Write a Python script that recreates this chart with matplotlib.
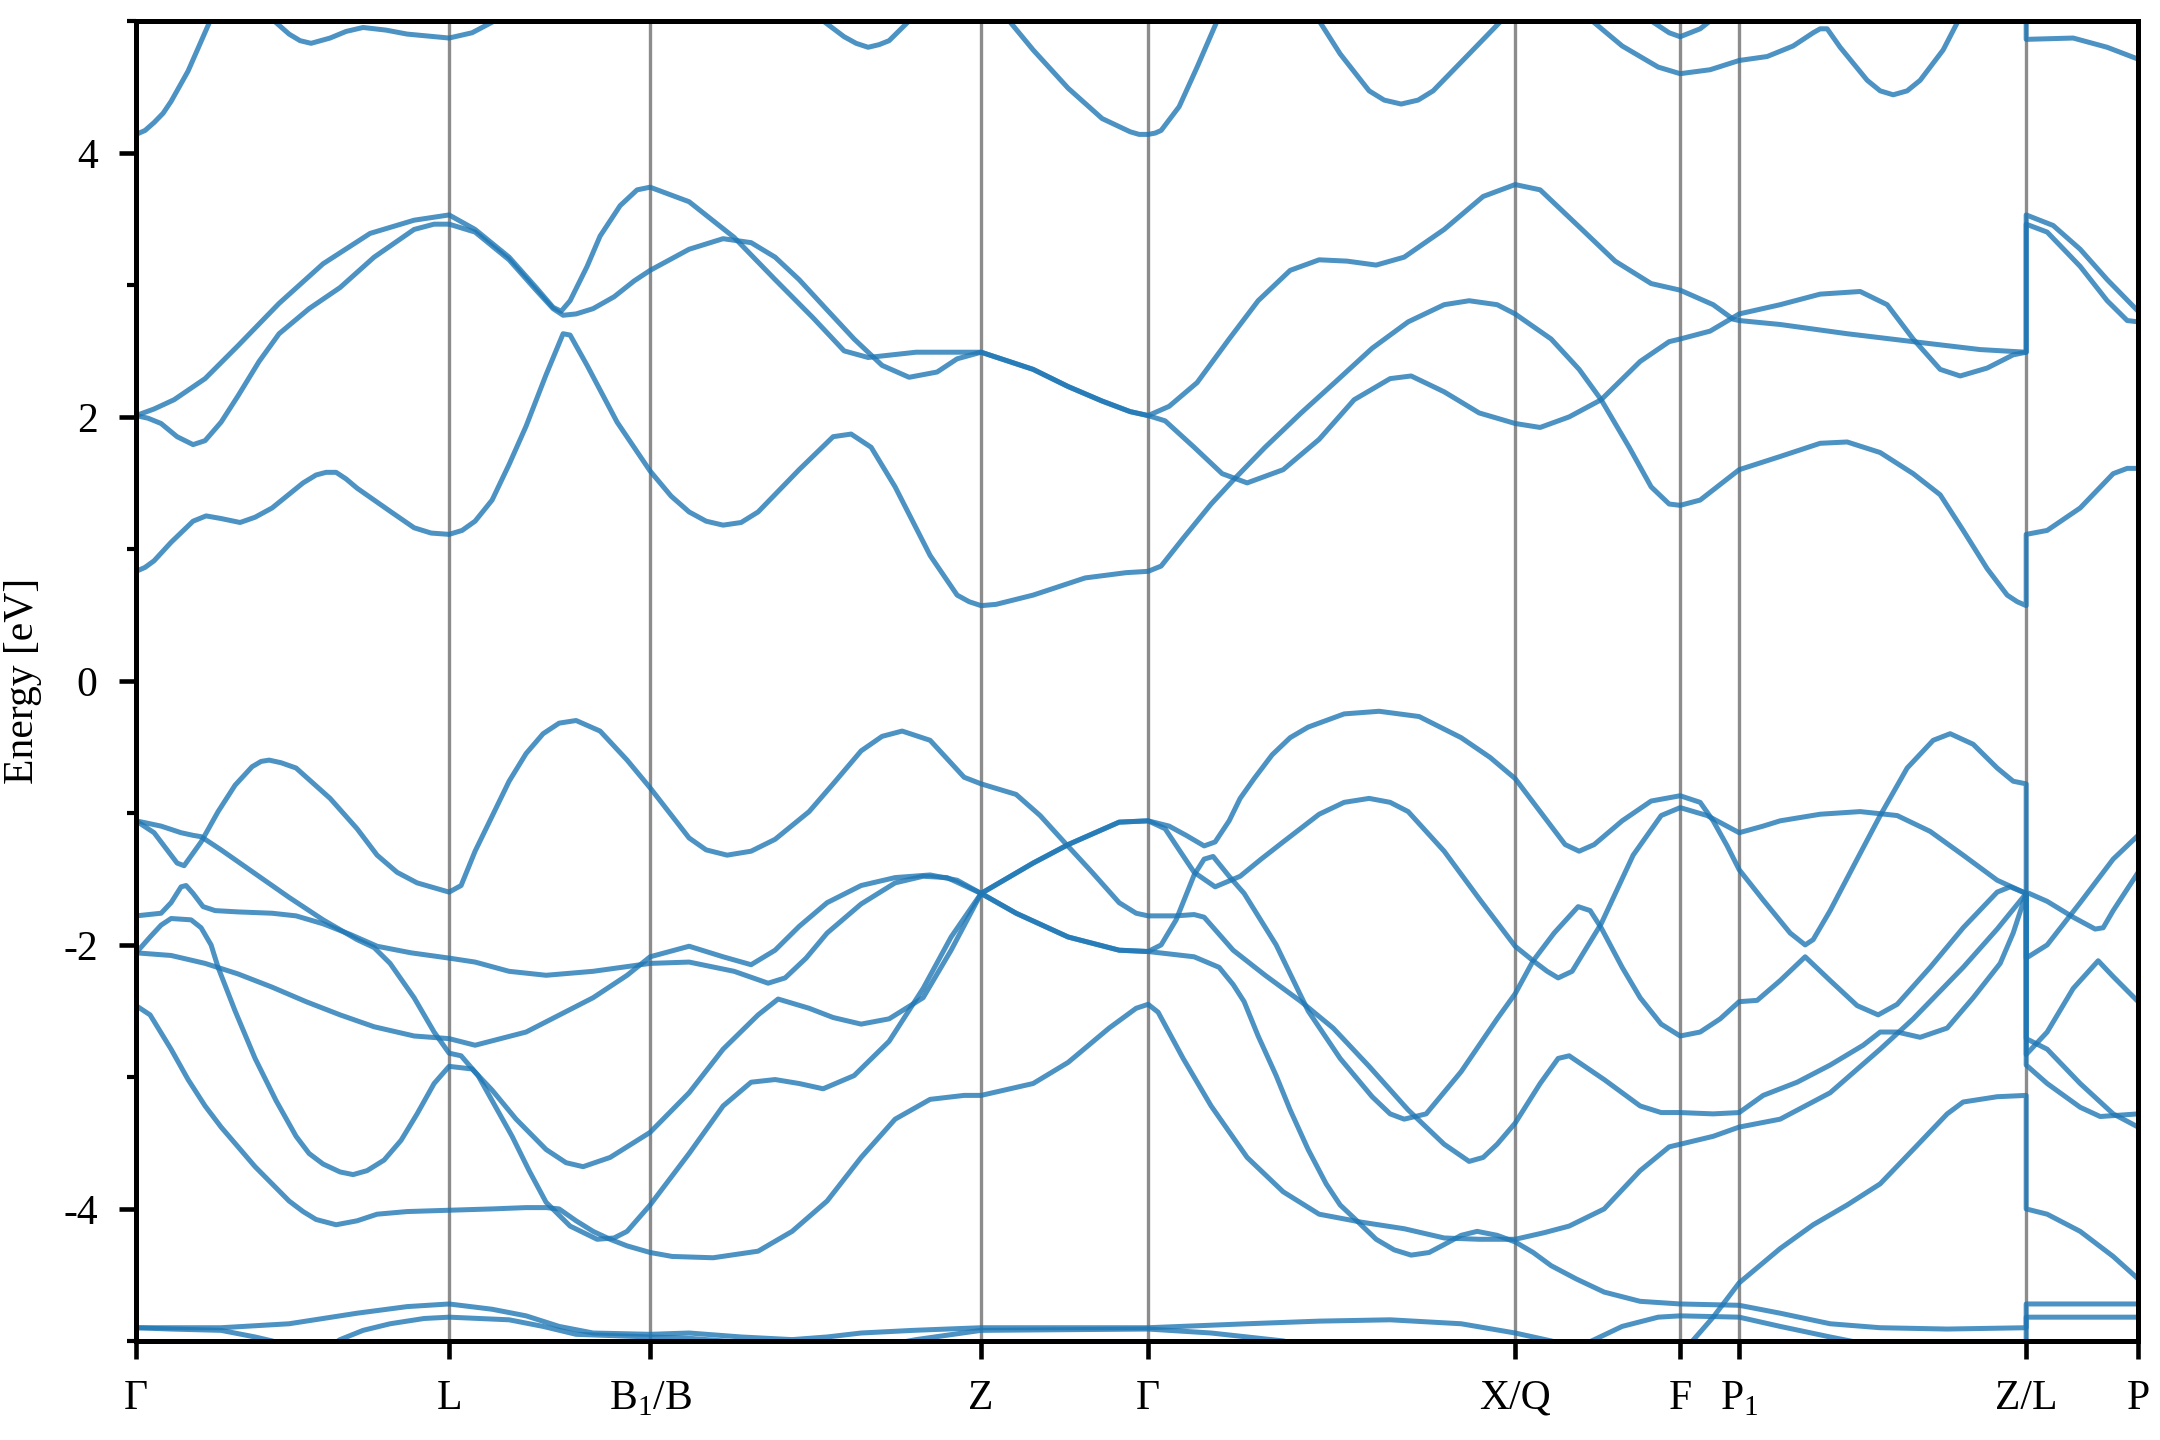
import matplotlib
matplotlib.use("Agg")
import matplotlib.pyplot as plt
from matplotlib.ticker import MultipleLocator

plt.rcParams["font.family"] = ["Liberation Serif", "DejaVu Serif"]
plt.rcParams["mathtext.fontset"] = "custom"
plt.rcParams["mathtext.rm"] = "Liberation Serif"
plt.rcParams["axes.unicode_minus"] = False

# high-symmetry points along the k-path
kpoints = [0.00, 3.13, 5.14, 8.45, 10.12, 13.79, 15.44, 16.03, 18.90, 20.02]
klabels = ["Γ", "L", "B$_1$/B", "Z", "Γ", "X/Q", "F", "P$_1$", "Z/L", "P"]

# conduction bands, (k, E)
c1 = [(0.00, 0.83), (0.09, 0.86), (0.18, 0.91), (0.35, 1.05), (0.57, 1.21), (0.70, 1.25), (0.85, 1.23),
      (1.04, 1.20), (1.19, 1.24), (1.36, 1.31), (1.67, 1.50), (1.80, 1.56), (1.90, 1.58), (2.00, 1.58),
      (2.10, 1.53), (2.21, 1.46), (2.55, 1.28), (2.78, 1.16), (2.95, 1.12), (3.13, 1.11), (3.26, 1.14),
      (3.39, 1.21), (3.56, 1.37), (3.73, 1.64), (3.90, 1.93), (4.10, 2.32), (4.27, 2.63), (4.34, 2.62),
      (4.51, 2.39), (4.81, 1.96), (5.14, 1.59), (5.35, 1.40), (5.53, 1.28), (5.70, 1.21), (5.87, 1.18),
      (6.05, 1.20), (6.22, 1.28), (6.63, 1.60), (6.97, 1.85), (7.15, 1.87), (7.35, 1.77), (7.59, 1.47),
      (7.94, 0.95), (8.21, 0.65), (8.33, 0.60), (8.45, 0.57), (8.60, 0.58), (8.97, 0.65), (9.49, 0.78),
      (9.90, 0.82), (10.12, 0.83), (10.25, 0.87), (10.47, 1.08), (10.75, 1.34), (10.97, 1.52),
      (11.29, 1.77), (11.65, 2.03), (12.00, 2.27), (12.36, 2.52), (12.72, 2.72), (13.08, 2.85),
      (13.33, 2.88), (13.61, 2.85), (13.79, 2.78), (14.15, 2.59), (14.43, 2.36), (14.65, 2.13),
      (14.93, 1.77), (15.15, 1.47), (15.33, 1.34), (15.44, 1.33), (15.64, 1.37), (16.03, 1.60),
      (16.44, 1.70), (16.84, 1.80), (17.11, 1.81), (17.44, 1.73), (17.77, 1.57), (18.04, 1.41),
      (18.27, 1.14), (18.51, 0.85), (18.71, 0.65), (18.81, 0.60), (18.90, 0.57), (18.90, 1.11),
      (19.11, 1.14), (19.44, 1.31), (19.77, 1.57), (19.91, 1.61), (20.02, 1.61)]

c2 = [(0.00, 2.01), (0.12, 1.99), (0.25, 1.95), (0.41, 1.85), (0.57, 1.79), (0.69, 1.82), (0.85, 1.96),
      (1.02, 2.16), (1.23, 2.42), (1.43, 2.63), (1.73, 2.82), (2.04, 2.98), (2.38, 3.21), (2.78, 3.42),
      (2.98, 3.46), (3.13, 3.46), (3.39, 3.40), (3.73, 3.19), (4.00, 2.96), (4.17, 2.82), (4.27, 2.77),
      (4.40, 2.78), (4.57, 2.82), (4.78, 2.91), (4.98, 3.03), (5.14, 3.11), (5.53, 3.27), (5.87, 3.35),
      (6.15, 3.32), (6.39, 3.21), (6.63, 3.04), (6.91, 2.81), (7.18, 2.59), (7.46, 2.39), (7.73, 2.30),
      (8.01, 2.34), (8.21, 2.44), (8.45, 2.49), (8.97, 2.36), (9.32, 2.23), (9.66, 2.12), (9.94, 2.04),
      (10.12, 2.01), (10.29, 1.97), (10.58, 1.77), (10.86, 1.57), (11.11, 1.50), (11.47, 1.60),
      (11.83, 1.83), (12.18, 2.13), (12.54, 2.29), (12.75, 2.31), (13.08, 2.19), (13.43, 2.03),
      (13.79, 1.95), (14.04, 1.92), (14.33, 2.00), (14.65, 2.13), (15.04, 2.42), (15.33, 2.57),
      (15.44, 2.59), (15.74, 2.65), (16.03, 2.78), (16.44, 2.85), (16.84, 2.93), (17.24, 2.95),
      (17.51, 2.85), (17.77, 2.59), (18.04, 2.36), (18.24, 2.31), (18.51, 2.37), (18.77, 2.47),
      (18.90, 2.49), (18.90, 3.46), (19.11, 3.40), (19.44, 3.14), (19.71, 2.88), (19.91, 2.73), (20.02, 2.72)]

c3 = [(0.00, 2.01), (0.18, 2.06), (0.38, 2.13), (0.69, 2.29), (1.02, 2.54), (1.43, 2.86), (1.87, 3.16),
      (2.34, 3.39), (2.78, 3.49), (3.13, 3.53), (3.39, 3.42), (3.73, 3.21), (4.00, 2.98), (4.17, 2.83),
      (4.25, 2.80), (4.34, 2.88), (4.51, 3.14), (4.64, 3.37), (4.84, 3.60), (5.01, 3.72), (5.14, 3.74),
      (5.53, 3.63), (5.98, 3.36), (6.39, 3.04), (6.77, 2.75), (7.08, 2.50), (7.32, 2.45), (7.80, 2.49),
      (8.45, 2.49), (8.97, 2.36), (9.32, 2.23), (9.66, 2.12), (9.94, 2.04), (10.12, 2.01), (10.33, 2.08),
      (10.61, 2.26), (10.93, 2.59), (11.22, 2.88), (11.54, 3.11), (11.83, 3.19), (12.11, 3.18),
      (12.40, 3.15), (12.68, 3.21), (13.08, 3.42), (13.47, 3.67), (13.79, 3.76), (14.04, 3.72),
      (14.43, 3.44), (14.79, 3.18), (15.15, 3.01), (15.44, 2.96), (15.77, 2.85), (15.97, 2.74),
      (16.03, 2.73), (16.44, 2.70), (17.11, 2.63), (17.77, 2.57), (18.44, 2.51), (18.90, 2.49),
      (18.90, 3.53), (19.17, 3.45), (19.44, 3.27), (19.71, 3.04), (20.02, 2.80)]

# upper conduction pieces that leave the window
t1 = [(0.00, 4.14), (0.09, 4.17), (0.18, 4.23), (0.27, 4.30), (0.35, 4.39), (0.52, 4.62), (0.74, 5.00),
      (0.85, 5.20)]
t2 = [(1.28, 5.15), (1.38, 5.00), (1.53, 4.90), (1.64, 4.85), (1.75, 4.83), (1.94, 4.87), (2.10, 4.92),
      (2.27, 4.95), (2.50, 4.93), (2.71, 4.90), (3.13, 4.87), (3.36, 4.91), (3.56, 4.99), (3.70, 5.10)]
t3 = [(6.75, 5.12), (6.87, 5.00), (7.08, 4.88), (7.20, 4.83), (7.32, 4.80), (7.43, 4.82), (7.53, 4.85),
      (7.73, 5.00), (7.85, 5.12)]
t4 = [(8.60, 5.15), (8.73, 5.00), (8.97, 4.78), (9.32, 4.49), (9.66, 4.26), (9.94, 4.16), (10.03, 4.14),
      (10.12, 4.14), (10.19, 4.15), (10.25, 4.17), (10.43, 4.35), (10.61, 4.65), (10.81, 5.00), (10.88, 5.15)]
t5 = [(11.75, 5.15), (11.83, 5.00), (12.04, 4.75), (12.33, 4.47), (12.48, 4.40), (12.65, 4.37),
      (12.82, 4.40), (12.97, 4.47), (13.33, 4.75), (13.65, 5.00), (13.72, 5.15)]
t6 = [(14.48, 5.15), (14.56, 5.00), (14.86, 4.81), (15.22, 4.65), (15.44, 4.60), (15.74, 4.63),
      (16.03, 4.70), (16.31, 4.73), (16.57, 4.81), (16.77, 4.91), (16.84, 4.94), (16.91, 4.94),
      (17.04, 4.80), (17.31, 4.55), (17.44, 4.47), (17.57, 4.44), (17.71, 4.47), (17.84, 4.55),
      (18.07, 4.78), (18.22, 5.00), (18.28, 5.15)]
t7 = [(15.10, 5.15), (15.15, 5.00), (15.33, 4.91), (15.44, 4.88), (15.64, 4.94), (15.74, 5.00), (15.80, 5.15)]
t8 = [(18.90, 5.10), (18.90, 4.86), (19.37, 4.87), (19.71, 4.80), (20.02, 4.71)]

# valence bands
v1 = [(0.00, -1.06), (0.18, -1.15), (0.31, -1.28), (0.41, -1.38), (0.48, -1.40), (0.65, -1.22),
      (0.82, -0.99), (0.99, -0.79), (1.16, -0.65), (1.25, -0.61), (1.33, -0.60), (1.45, -0.62),
      (1.60, -0.66), (1.94, -0.89), (2.21, -1.12), (2.41, -1.32), (2.61, -1.45), (2.81, -1.53),
      (3.13, -1.60), (3.25, -1.55), (3.39, -1.29), (3.73, -0.76), (3.90, -0.55), (4.07, -0.40),
      (4.23, -0.32), (4.40, -0.30), (4.64, -0.38), (4.91, -0.60), (5.14, -0.81), (5.53, -1.19),
      (5.70, -1.28), (5.91, -1.32), (6.15, -1.29), (6.39, -1.20), (6.73, -0.99), (6.97, -0.78),
      (7.25, -0.53), (7.46, -0.42), (7.66, -0.38), (7.94, -0.45), (8.28, -0.73), (8.45, -0.78),
      (8.80, -0.86), (9.04, -1.02), (9.28, -1.22), (9.56, -1.45), (9.83, -1.68), (10.00, -1.76),
      (10.12, -1.78), (10.40, -1.78), (10.58, -1.77), (10.68, -1.79), (10.97, -2.04), (11.29, -2.23),
      (11.65, -2.43), (11.97, -2.63), (12.33, -2.92), (12.72, -3.25), (13.08, -3.51), (13.33, -3.64),
      (13.47, -3.61), (13.61, -3.51), (13.79, -3.35), (14.04, -3.05), (14.22, -2.86), (14.33, -2.84),
      (14.68, -3.02), (15.04, -3.22), (15.25, -3.27), (15.44, -3.27), (15.77, -3.28), (16.03, -3.27),
      (16.27, -3.14), (16.61, -3.04), (16.94, -2.91), (17.27, -2.76), (17.44, -2.66), (17.61, -2.66),
      (17.84, -2.70), (18.11, -2.63), (18.37, -2.40), (18.64, -2.14), (18.77, -1.91), (18.90, -1.61),
      (18.90, -2.91), (19.11, -3.05), (19.44, -3.23), (19.64, -3.30), (20.02, -3.28)]

v2 = [(0.00, -1.06), (0.25, -1.10), (0.45, -1.15), (0.57, -1.17), (0.65, -1.18), (0.85, -1.28),
      (1.19, -1.46), (1.53, -1.64), (1.87, -1.81), (2.21, -1.96), (2.38, -2.02), (2.54, -2.14),
      (2.78, -2.40), (2.98, -2.66), (3.13, -2.82), (3.25, -2.84), (3.42, -2.99), (3.59, -3.22),
      (3.76, -3.45), (3.93, -3.71), (4.10, -3.95), (4.34, -4.13), (4.61, -4.23), (4.78, -4.22),
      (4.91, -4.17), (5.14, -3.97), (5.53, -3.58), (5.87, -3.22), (6.15, -3.04), (6.39, -3.02),
      (6.63, -3.05), (6.87, -3.09), (7.18, -2.99), (7.53, -2.73), (7.87, -2.33), (8.15, -1.94),
      (8.45, -1.61), (8.97, -1.38), (9.32, -1.24), (9.83, -1.07), (10.12, -1.06), (10.33, -1.10),
      (10.50, -1.17), (10.68, -1.25), (10.79, -1.22), (10.93, -1.06), (11.04, -0.89), (11.18, -0.74),
      (11.36, -0.56), (11.54, -0.43), (11.72, -0.35), (12.08, -0.25), (12.43, -0.23), (12.83, -0.27),
      (13.25, -0.43), (13.54, -0.58), (13.79, -0.74), (14.04, -0.99), (14.29, -1.24), (14.43, -1.29),
      (14.58, -1.24), (14.86, -1.06), (15.15, -0.91), (15.44, -0.87), (15.64, -0.92), (15.77, -1.06),
      (15.91, -1.25), (16.03, -1.43), (16.27, -1.66), (16.54, -1.91), (16.69, -2.00), (16.77, -1.96),
      (16.94, -1.74), (17.21, -1.35), (17.44, -1.02), (17.71, -0.66), (17.97, -0.45), (18.14, -0.40),
      (18.37, -0.48), (18.61, -0.66), (18.77, -0.76), (18.90, -0.78), (18.90, -1.60), (19.11, -1.67),
      (19.37, -1.79), (19.59, -1.88), (19.67, -1.87), (19.77, -1.74), (20.02, -1.45)]

v3 = [(0.00, -1.78), (0.25, -1.76), (0.35, -1.68), (0.45, -1.56), (0.50, -1.55), (0.57, -1.61),
      (0.67, -1.71), (0.79, -1.74), (1.02, -1.75), (1.36, -1.76), (1.60, -1.78), (1.87, -1.84),
      (2.14, -1.92), (2.41, -2.01), (2.75, -2.06), (3.13, -2.10), (3.39, -2.13), (3.73, -2.20),
      (4.10, -2.23), (4.57, -2.20), (5.14, -2.14), (5.53, -2.13), (5.98, -2.20), (6.32, -2.29),
      (6.49, -2.25), (6.70, -2.10), (6.91, -1.91), (7.25, -1.69), (7.59, -1.53), (7.87, -1.48),
      (8.11, -1.49), (8.45, -1.61), (8.80, -1.76), (9.32, -1.94), (9.83, -2.04), (10.12, -2.05),
      (10.25, -2.00), (10.40, -1.81), (10.58, -1.47), (10.68, -1.35), (10.77, -1.33), (10.93, -1.48),
      (11.08, -1.61), (11.40, -2.00), (11.72, -2.50), (12.04, -2.86), (12.36, -3.15), (12.54, -3.28),
      (12.68, -3.32), (12.90, -3.28), (13.25, -2.96), (13.61, -2.56), (13.79, -2.37), (13.97, -2.12),
      (14.11, -2.20), (14.22, -2.25), (14.36, -2.20), (14.65, -1.84), (14.97, -1.32), (15.25, -1.02),
      (15.44, -0.96), (15.71, -1.02), (16.03, -1.15), (16.27, -1.10), (16.44, -1.06), (16.84, -1.01),
      (17.24, -0.99), (17.61, -1.02), (17.94, -1.14), (18.27, -1.32), (18.61, -1.51), (18.90, -1.61),
      (18.90, -2.10), (19.11, -2.00), (19.44, -1.68), (19.77, -1.35), (20.02, -1.17)]

v4 = [(0.00, -2.06), (0.14, -1.94), (0.25, -1.85), (0.35, -1.80), (0.55, -1.81), (0.65, -1.87),
      (0.75, -2.00), (0.82, -2.17), (0.99, -2.50), (1.19, -2.86), (1.40, -3.18), (1.60, -3.45),
      (1.73, -3.58), (1.87, -3.66), (2.04, -3.72), (2.17, -3.74), (2.31, -3.71), (2.48, -3.63),
      (2.65, -3.48), (2.81, -3.28), (2.98, -3.05), (3.13, -2.92), (3.36, -2.94), (3.56, -3.10),
      (3.80, -3.32), (4.10, -3.55), (4.30, -3.65), (4.47, -3.68), (4.74, -3.61), (5.14, -3.42),
      (5.53, -3.12), (5.87, -2.79), (6.22, -2.53), (6.42, -2.41), (6.73, -2.48), (6.97, -2.55),
      (7.25, -2.60), (7.53, -2.56), (7.87, -2.40), (8.15, -2.04), (8.45, -1.61), (8.80, -1.76),
      (9.32, -1.94), (9.83, -2.04), (10.12, -2.05), (10.58, -2.09), (10.83, -2.17), (10.97, -2.30),
      (11.08, -2.43), (11.22, -2.69), (11.40, -2.99), (11.54, -3.25), (11.72, -3.55), (11.90, -3.81),
      (12.04, -3.97), (12.18, -4.07), (12.40, -4.23), (12.58, -4.31), (12.75, -4.35), (12.93, -4.33),
      (13.08, -4.27), (13.25, -4.20), (13.41, -4.17), (13.61, -4.20), (13.79, -4.25), (13.97, -4.33),
      (14.15, -4.43), (14.40, -4.53), (14.68, -4.63), (15.04, -4.70), (15.44, -4.72), (16.03, -4.73),
      (16.44, -4.79), (16.94, -4.87), (17.44, -4.90), (18.11, -4.91), (18.90, -4.90), (18.90, -4.72),
      (19.50, -4.72), (20.02, -4.72)]

v5 = [(0.00, -2.06), (0.35, -2.08), (0.69, -2.14), (1.02, -2.22), (1.36, -2.32), (1.70, -2.43),
      (2.04, -2.53), (2.38, -2.62), (2.78, -2.69), (3.13, -2.71), (3.39, -2.76), (3.90, -2.66),
      (4.57, -2.40), (4.91, -2.23), (5.14, -2.09), (5.53, -2.01), (5.87, -2.09), (6.15, -2.15),
      (6.39, -2.04), (6.63, -1.86), (6.91, -1.68), (7.25, -1.55), (7.59, -1.49), (7.94, -1.47),
      (8.21, -1.51), (8.45, -1.61), (8.97, -1.38), (9.32, -1.24), (9.83, -1.07), (10.12, -1.06),
      (10.29, -1.12), (10.43, -1.28), (10.58, -1.45), (10.79, -1.56), (11.04, -1.48), (11.25, -1.35),
      (11.47, -1.22), (11.83, -1.01), (12.08, -0.92), (12.33, -0.89), (12.54, -0.92), (12.72, -0.99),
      (13.08, -1.29), (13.43, -1.65), (13.79, -2.01), (13.97, -2.12), (14.18, -1.91), (14.42, -1.71),
      (14.54, -1.74), (14.65, -1.87), (14.86, -2.17), (15.04, -2.40), (15.25, -2.60), (15.44, -2.69),
      (15.64, -2.66), (15.84, -2.56), (16.03, -2.43), (16.21, -2.42), (16.44, -2.27), (16.69, -2.09),
      (16.94, -2.27), (17.21, -2.46), (17.42, -2.53), (17.61, -2.45), (17.94, -2.17), (18.27, -1.87),
      (18.61, -1.60), (18.74, -1.56), (18.90, -1.61), (18.90, -2.71), (19.11, -2.79), (19.44, -3.05),
      (19.77, -3.28), (20.02, -3.38)]

v6 = [(0.00, -2.46), (0.14, -2.53), (0.35, -2.79), (0.52, -3.02), (0.69, -3.22), (0.85, -3.38),
      (1.02, -3.53), (1.19, -3.68), (1.36, -3.81), (1.53, -3.94), (1.67, -4.02), (1.80, -4.08),
      (2.00, -4.12), (2.21, -4.09), (2.41, -4.04), (2.71, -4.02), (3.13, -4.01), (3.56, -4.00),
      (3.90, -3.99), (4.10, -3.99), (4.23, -4.00), (4.40, -4.09), (4.57, -4.17), (4.74, -4.23),
      (4.91, -4.28), (5.14, -4.33), (5.36, -4.36), (5.77, -4.37), (6.22, -4.32), (6.56, -4.17),
      (6.91, -3.94), (7.25, -3.61), (7.59, -3.32), (7.94, -3.17), (8.28, -3.14), (8.45, -3.14),
      (8.97, -3.05), (9.32, -2.89), (9.73, -2.63), (10.00, -2.48), (10.12, -2.45), (10.22, -2.51),
      (10.47, -2.86), (10.75, -3.22), (11.11, -3.61), (11.47, -3.87), (11.83, -4.04), (12.25, -4.10),
      (12.68, -4.15), (13.08, -4.22), (13.43, -4.23), (13.79, -4.23), (14.08, -4.18), (14.33, -4.13),
      (14.68, -4.00), (15.04, -3.71), (15.33, -3.53), (15.44, -3.51), (15.77, -3.45), (16.03, -3.38),
      (16.44, -3.32), (16.94, -3.12), (17.44, -2.79), (17.77, -2.56), (18.27, -2.17), (18.61, -1.88),
      (18.90, -1.61), (18.90, -2.83), (19.11, -2.66), (19.37, -2.33), (19.62, -2.12), (19.77, -2.24),
      (20.02, -2.43)]

v7 = [(0.00, -4.90), (0.85, -4.90), (1.53, -4.87), (2.21, -4.79), (2.71, -4.74), (3.13, -4.72),
      (3.56, -4.76), (3.90, -4.81), (4.23, -4.89), (4.57, -4.94), (5.14, -4.95), (5.53, -4.94),
      (6.05, -4.97), (6.56, -4.99), (6.91, -4.97), (7.25, -4.94), (7.77, -4.92), (8.45, -4.90),
      (9.32, -4.90), (10.12, -4.90), (11.11, -4.87), (11.83, -4.85), (12.54, -4.84), (13.25, -4.87),
      (13.79, -4.94), (14.15, -5.00), (14.33, -5.04), (14.50, -5.02), (14.86, -4.89), (15.22, -4.82),
      (15.44, -4.81), (16.03, -4.82), (16.44, -4.89), (16.94, -4.97), (17.27, -5.02), (18.00, -5.08),
      (18.90, -5.08), (18.90, -4.82), (20.02, -4.82)]

v8 = [(0.00, -4.90), (0.35, -4.91), (0.85, -4.92), (1.19, -4.97), (1.36, -5.00), (1.60, -5.06),
      (1.90, -5.06), (2.04, -4.99), (2.27, -4.92), (2.54, -4.87), (2.88, -4.83), (3.13, -4.82),
      (3.73, -4.84), (4.07, -4.89), (4.40, -4.95), (5.14, -4.97), (5.53, -4.98), (6.05, -5.01),
      (6.50, -5.06), (7.30, -5.06), (7.80, -4.99), (8.45, -4.92), (10.12, -4.91), (10.75, -4.94),
      (11.47, -5.00), (12.00, -5.10), (15.00, -5.10), (15.33, -5.03), (15.54, -5.02), (15.77, -4.82),
      (16.03, -4.56), (16.44, -4.30), (16.77, -4.12), (17.11, -3.97), (17.44, -3.81), (17.77, -3.55),
      (18.11, -3.28), (18.27, -3.19), (18.61, -3.15), (18.90, -3.14), (18.90, -4.00), (19.11, -4.04),
      (19.44, -4.17), (19.77, -4.36), (20.02, -4.53)]

bands = [c1, c2, c3, t1, t2, t3, t4, t5, t6, t7, t8, v1, v2, v3, v4, v5, v6, v7, v8]


def plot_bands(out_file):
    fig = plt.figure(figsize=(7.2, 4.8), dpi=300)
    ax = fig.add_axes([0.063, 0.0688, 0.9269, 0.9167])

    for kp in kpoints[1:-1]:
        ax.axvline(kp, color="gray", lw=0.8, alpha=0.9, zorder=1)

    for band in bands:
        k, e = zip(*band)
        ax.plot(k, e, color="#1f77b4", lw=1.2, alpha=0.8, zorder=2,
                solid_joinstyle="round", solid_capstyle="round")

    ax.set_xlim(kpoints[0], kpoints[-1])
    ax.set_ylim(-5, 5)
    ax.set_xticks(kpoints)
    ax.set_xticklabels(klabels)
    ax.set_yticks([-4, -2, 0, 2, 4])
    ax.yaxis.set_minor_locator(MultipleLocator(1))
    ax.set_ylabel("Energy [eV]", fontsize=10, labelpad=5)

    ax.tick_params(axis="both", which="major", direction="out", length=4.2, width=1.1,
                   labelsize=10, pad=5)
    ax.tick_params(axis="y", which="minor", direction="out", length=2.2, width=1.0)
    for s in ax.spines.values():
        s.set_linewidth(1.2)

    fig.savefig(out_file, dpi=300)


if __name__ == "__main__":
    plot_bands("out.png")
